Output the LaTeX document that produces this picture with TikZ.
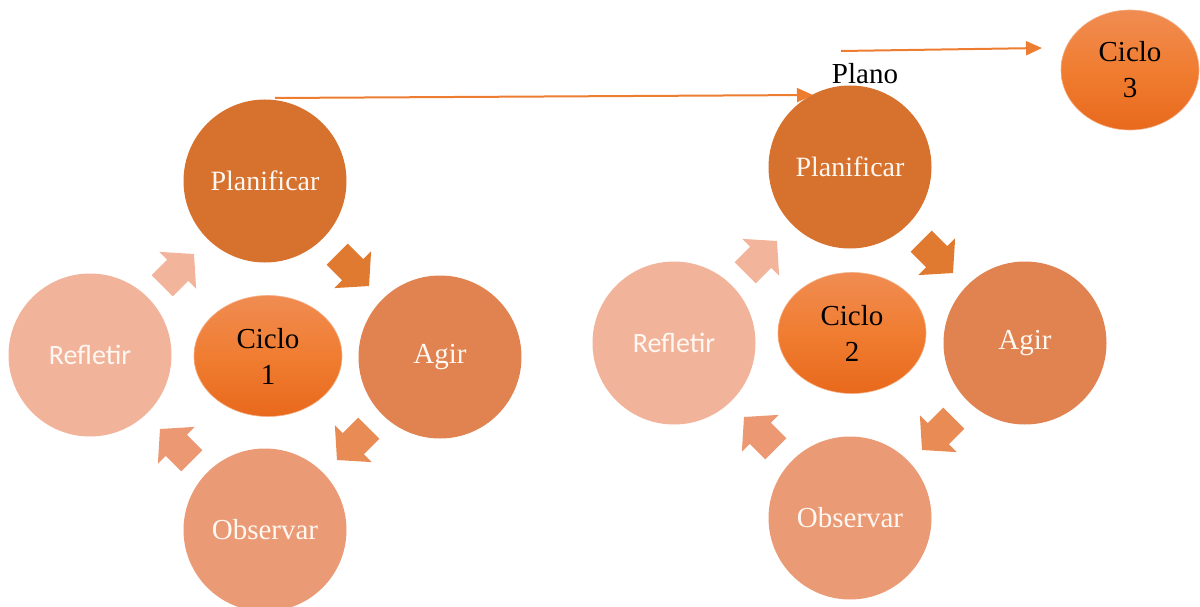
\documentclass[tikz,border=0pt]{standalone}
\usepackage{fontspec}
\setmainfont{Liberation Serif}
\newfontfamily\calib{Carlito}
\usetikzlibrary{shapes.geometric,arrows.meta}
\definecolor{cPlan}{HTML}{D6712E}
\definecolor{cAgir}{HTML}{E08350}
\definecolor{cObs}{HTML}{EA9A74}
\definecolor{cRef}{HTML}{F2B39B}
\definecolor{aTR}{HTML}{E07A30}
\definecolor{aBR}{HTML}{E88B55}
\definecolor{aBL}{HTML}{EB9873}
\definecolor{aTL}{HTML}{F2B49B}
\definecolor{cTop}{HTML}{F08C52}
\definecolor{cMid}{HTML}{F07D31}
\definecolor{cBot}{HTML}{E8691C}
\definecolor{lineOr}{HTML}{ED7D31}
\definecolor{txtW}{HTML}{FFF8F2}
\newcommand\blkarrow[4]{%
  \begin{scope}[shift={(#2,#3)},rotate=#4]
    \fill[#1] (0,0) -- (-23,26) -- (-23,15) -- (-45,15) -- (-45,-15) -- (-23,-15) -- (-23,-26) -- cycle;
  \end{scope}}
\tikzset{
  stage/.style={circle, minimum size=163pt, inner sep=0pt, text=txtW,
    font=\fontsize{29}{34}\selectfont},
  cyc/.style={ellipse, minimum width=148pt, minimum height=121pt, inner sep=0pt,
    top color=cTop, bottom color=cBot, middle color=cMid, draw=cTop!70!white, line width=0.6pt,
    align=center, font=\fontsize{29}{36}\selectfont},
  link/.style={draw=lineOr, line width=2pt, -{Triangle[length=16pt,width=14pt]}}
}
\begin{document}
\begin{tikzpicture}[x=1pt,y=-1pt]
\useasboundingbox (0,0) rectangle (1200,607);
% Cycle 1
\node[stage, fill=cPlan, font=\fontsize{28}{34}\selectfont] (plan1) at (265,181) {Planificar};
\node[stage, fill=cAgir] (agir1) at (440,357) {Agir};
\node[stage, fill=cObs] (obs1) at (265,530) {Observar};
\node[stage, fill=cRef, font=\calib\fontsize{28}{34}\selectfont] (ref1) at (90,355) {Refletir};
\node[cyc] (ciclo1) at (268,356) {Ciclo\\1};
\blkarrow{aTR}{369}{286}{-45}
\blkarrow{aBR}{337}{460}{-135}
\blkarrow{aBL}{160}{429}{135}
\blkarrow{aTL}{194}{254}{45}
% Cycle 2
\node[stage, fill=cPlan, font=\fontsize{28}{34}\selectfont] (plan2) at (850,167) {Planificar};
\node[stage, fill=cAgir] (agir2) at (1025,343) {Agir};
\node[stage, fill=cObs] (obs2) at (850,518) {Observar};
\node[stage, fill=cRef, font=\calib\fontsize{28}{34}\selectfont] (ref2) at (674,343) {Refletir};
\node[cyc] (ciclo2) at (852,333) {Ciclo\\2};
\blkarrow{aTR}{953}{273}{-45}
\blkarrow{aBR}{922}{450}{-135}
\blkarrow{aBL}{744}{417}{135}
\blkarrow{aTL}{777}{241}{45}
% Cycle 3
\node[cyc, minimum width=138pt, minimum height=120pt] (ciclo3) at (1130,70) {Ciclo\\3};
\node[font=\fontsize{29}{34}\selectfont] (plano) at (865,74) {Plano};
% connectors
\coordinate (s1) at (275,98);
\coordinate (e1) at (813,95);
\coordinate (s2) at (841,51);
\coordinate (e2) at (1042,48);
\draw[link] (s1) -- (e1);
\draw[link] (s2) -- (e2);
\end{tikzpicture}
\end{document}
